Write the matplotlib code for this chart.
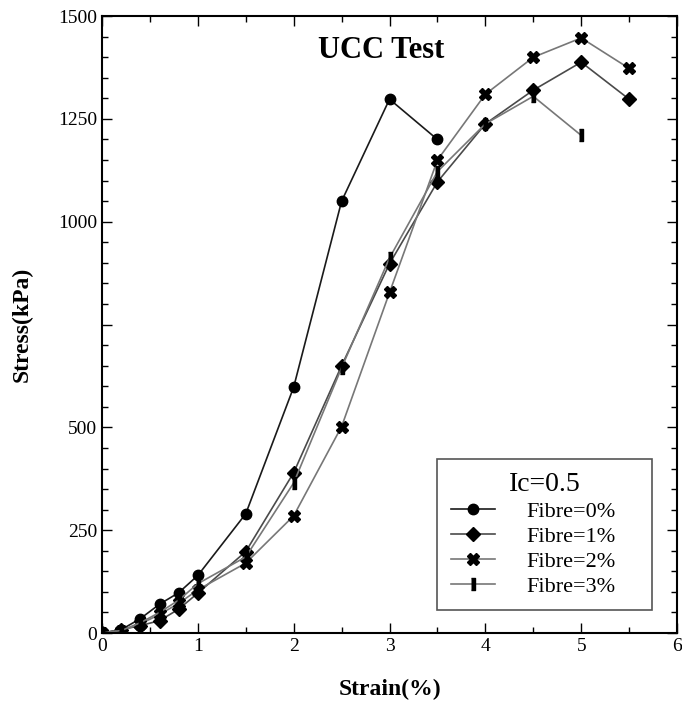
import matplotlib
matplotlib.use("Agg")
import matplotlib.pyplot as plt
from matplotlib.ticker import MultipleLocator, FuncFormatter

plt.rcParams['font.family'] = ['Liberation Serif', 'DejaVu Serif']

# strain (%) values for each fibre content
strain_0 = [0, 0.2, 0.4, 0.6, 0.8, 1.0, 1.5, 2.0, 2.5, 3.0, 3.5]
stress_0 = [0, 8, 35, 70, 98, 140, 290, 598, 1050, 1298, 1200]

strain_1 = [0, 0.2, 0.4, 0.6, 0.8, 1.0, 1.5, 2.0, 2.5, 3.0, 3.5, 4.0, 4.5, 5.0, 5.5]
stress_1 = [0, 8, 18, 30, 58, 97, 198, 390, 650, 898, 1097, 1238, 1320, 1388, 1298]

strain_2 = [0, 0.2, 0.4, 0.6, 0.8, 1.0, 1.5, 2.0, 2.5, 3.0, 3.5, 4.0, 4.5, 5.0, 5.5]
stress_2 = [0, 6, 22, 45, 72, 105, 170, 285, 502, 828, 1150, 1310, 1400, 1447, 1373]

strain_3 = [0, 0.2, 0.4, 0.6, 0.8, 1.0, 1.5, 2.0, 2.5, 3.0, 3.5, 4.0, 4.5, 5.0]
stress_3 = [0, 6, 25, 50, 80, 120, 185, 365, 645, 912, 1122, 1238, 1305, 1210]

labels = ["Fibre=0%", "Fibre=1%", "Fibre=2%", "Fibre=3%"]

fig = plt.figure(figsize=(6.82, 7.01), dpi=100)
ax = fig.add_axes([0.1496, 0.097, 0.8431, 0.880])

bar_marker = [(-0.4, -1), (0.4, -1), (0.4, 1), (-0.4, 1)]

ax.plot(strain_0, stress_0, color="#1a1a1a", lw=1.2, marker="o", ms=7.5,
        mfc="black", mec="black", label=labels[0])
ax.plot(strain_1, stress_1, color="#4a4a4a", lw=1.2, marker="D", ms=7.5,
        mfc="black", mec="black", label=labels[1])
ax.plot(strain_2, stress_2, color="#777777", lw=1.2, marker="X", ms=8.5,
        mfc="black", mec="black", label=labels[2])
ax.plot(strain_3, stress_3, color="#777777", lw=1.2, marker=bar_marker, ms=8.5,
        mfc="black", mec="black", label=labels[3])

ax.set_xlim(0, 6)
ax.set_ylim(0, 1500)
ax.xaxis.set_major_locator(MultipleLocator(1))
ax.xaxis.set_minor_locator(MultipleLocator(0.5))
ax.yaxis.set_major_locator(MultipleLocator(250))
ax.yaxis.set_minor_locator(MultipleLocator(50))
ax.yaxis.set_major_formatter(FuncFormatter(lambda v, p: "" if v == 750 else "%d" % v))

ax.tick_params(which="both", direction="in", top=True, right=True, labelsize=14)
ax.tick_params(which="major", length=7, width=1)
ax.tick_params(which="minor", length=4, width=1)
for s in ax.spines.values():
    s.set_linewidth(1.5)

ax.set_xlabel("Strain(%)", fontsize=17, fontweight="bold", labelpad=17)
ax.set_ylabel("Stress(kPa)", fontsize=17, fontweight="bold", labelpad=18)

ax.text(0.485, 0.945, "UCC Test", transform=ax.transAxes, ha="center", va="center",
        fontsize=22, fontweight="bold")

leg = ax.legend(loc="lower left", bbox_to_anchor=(0.583, 0.037, 0.374, 0.268),
                mode="expand", borderaxespad=0, title="Ic=0.5", fontsize=16,
                title_fontsize=20, handlelength=2.0, handletextpad=1.4,
                labelspacing=0.2, fancybox=False, framealpha=1,
                edgecolor="#555555", borderpad=0.6)
leg.get_frame().set_linewidth(1.2)

fig.savefig("out.png", dpi=100)
